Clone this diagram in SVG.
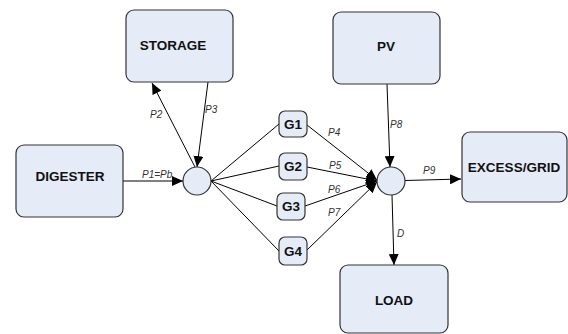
<svg xmlns="http://www.w3.org/2000/svg" width="568" height="334" viewBox="0 0 568 334">
<style>
.box{fill:#E6ECF7;stroke:#333;stroke-width:1.2}
.lbl{font-family:"Liberation Sans",Arial,sans-serif;font-weight:bold;font-size:13.5px;fill:#111;text-anchor:middle;dominant-baseline:central}
.glbl{font-family:"Liberation Sans",Arial,sans-serif;font-weight:bold;font-size:13.5px;fill:#111;text-anchor:middle;dominant-baseline:central}
.edge{stroke:#000;stroke-width:1;fill:none}
.el{font-family:"Liberation Sans",Arial,sans-serif;font-style:italic;font-size:10px;fill:#333}
</style>
<defs>
<marker id="ah" markerUnits="userSpaceOnUse" markerWidth="12" markerHeight="10" refX="11" refY="5" orient="auto">
<path d="M0,0 L11,5 L0,10 Z" fill="#000"/>
</marker>
</defs>
<g id="connectors">
<line class="edge" x1="123" y1="181" x2="183" y2="181" marker-end="url(#ah)"/>
<line class="edge" x1="195" y1="167" x2="152" y2="83" marker-end="url(#ah)"/>
<line class="edge" x1="208" y1="82" x2="197" y2="167" marker-end="url(#ah)"/>
<line class="edge" x1="211" y1="181" x2="279" y2="124"/>
<line class="edge" x1="211" y1="181" x2="279" y2="166"/>
<line class="edge" x1="211" y1="181" x2="277" y2="206"/>
<line class="edge" x1="211" y1="181" x2="279" y2="251"/>
<line class="edge" x1="307" y1="125" x2="377" y2="180" marker-end="url(#ah)"/>
<line class="edge" x1="307" y1="167" x2="377" y2="181" marker-end="url(#ah)"/>
<line class="edge" x1="305" y1="206" x2="377" y2="181" marker-end="url(#ah)"/>
<line class="edge" x1="307" y1="250" x2="377" y2="182" marker-end="url(#ah)"/>
<line class="edge" x1="387" y1="84" x2="390" y2="167" marker-end="url(#ah)"/>
<line class="edge" x1="405" y1="180.5" x2="461" y2="179" marker-end="url(#ah)"/>
<line class="edge" x1="392" y1="195" x2="394" y2="265" marker-end="url(#ah)"/>
<text class="el" x="142" y="178">P1=Pb</text>
<text class="el" x="150" y="118">P2</text>
<text class="el" x="205" y="113">P3</text>
<text class="el" x="328" y="136">P4</text>
<text class="el" x="329" y="169">P5</text>
<text class="el" x="328" y="193">P6</text>
<text class="el" x="328" y="216">P7</text>
<text class="el" x="390" y="128">P8</text>
<text class="el" x="423" y="174">P9</text>
<text class="el" x="397" y="237">D</text>
</g>
<g id="storage"><rect class="box" x="126" y="10" width="107" height="72" rx="8"/><text class="lbl" x="173" y="45">STORAGE</text></g>
<g id="digester"><rect class="box" x="16" y="145" width="107" height="72" rx="8"/><text class="lbl" x="70" y="176">DIGESTER</text></g>
<g id="pv"><rect class="box" x="333" y="12" width="107" height="72" rx="8"/><text class="lbl" x="386" y="46">PV</text></g>
<g id="excess"><rect class="box" x="462" y="132" width="105" height="70" rx="8"/><text class="lbl" x="514" y="167">EXCESS/GRID</text></g>
<g id="load"><rect class="box" x="340" y="265" width="108" height="68" rx="8"/><text class="lbl" x="394" y="300">LOAD</text></g>
<g id="j1"><circle class="box" cx="197" cy="181" r="14"/></g>
<g id="j2"><circle class="box" cx="391" cy="181" r="14"/></g>
<g id="g1"><rect class="box" x="279" y="111" width="28" height="26" rx="6"/><text class="glbl" x="293" y="124">G1</text></g>
<g id="g2"><rect class="box" x="279" y="153" width="28" height="27" rx="6"/><text class="glbl" x="293" y="166.5">G2</text></g>
<g id="g3"><rect class="box" x="277" y="193" width="28" height="27" rx="6"/><text class="glbl" x="291" y="206.5">G3</text></g>
<g id="g4"><rect class="box" x="279" y="237" width="28" height="28" rx="6"/><text class="glbl" x="293" y="251">G4</text></g>
</svg>
